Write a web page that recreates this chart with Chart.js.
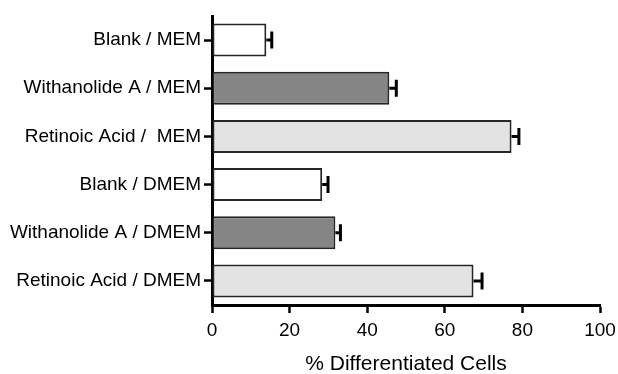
<!DOCTYPE html>
<html>
<head>
<meta charset="utf-8">
<script src="https://cdn.jsdelivr.net/npm/chart.js@4"></script>
<style>
  html, body { margin: 0; padding: 0; background: #fff; }
  #wrap { width: 618px; height: 374px; }
</style>
</head>
<body>
<div id="wrap"><canvas id="chart" width="618" height="374"></canvas></div>
<script>
// Data
const categories = [
    'Blank / MEM',
    'Withanolide A / MEM',
    'Retinoic Acid /  MEM',
    'Blank / DMEM',
    'Withanolide A / DMEM',
    'Retinoic Acid / DMEM'
];
const values = [14, 45.7, 77.2, 28.4, 31.8, 67.4];
const errors = [1.4, 1.8, 1.9, 1.5, 1.3, 2.2];
const xTicks = [0, 20, 40, 60, 80, 100];
const barColors = ['#ffffff', '#858585', '#e3e3e3', '#ffffff', '#858585', '#e3e3e3'];

const FONT = '"Liberation Sans", Arial, Helvetica, sans-serif';

// draws the + side error bar with cap
const errorBars = {
    id: 'errorBars',
    afterDatasetsDraw(chart) {
        const ctx = chart.ctx;
        const meta = chart.getDatasetMeta(0);
        const xs = chart.scales.x;
        ctx.save();
        ctx.strokeStyle = '#000';
        ctx.lineWidth = 3;
        meta.data.forEach((bar, i) => {
            const x0 = xs.getPixelForValue(values[i]);
            const x1 = xs.getPixelForValue(values[i] + errors[i]);
            ctx.beginPath();
            ctx.moveTo(x0, bar.y);
            ctx.lineTo(x1, bar.y);
            ctx.moveTo(x1, bar.y - 8.5);
            ctx.lineTo(x1, bar.y + 8.5);
            ctx.stroke();
        });
        ctx.restore();
    }
};

new Chart(document.getElementById('chart'), {
    type: 'bar',
    data: {
        labels: categories,
        datasets: [{
            data: values,
            backgroundColor: barColors,
            borderColor: '#262626',
            borderWidth: 2,
            borderSkipped: false,
            barPercentage: 0.685,
            categoryPercentage: 1
        }]
    },
    options: {
        indexAxis: 'y',
        responsive: false,
        animation: false,
        devicePixelRatio: 1,
        layout: { padding: { top: 16, right: 18, left: 0, bottom: 0 } },
        plugins: {
            legend: { display: false },
            tooltip: { enabled: false }
        },
        scales: {
            x: {
                min: 0,
                max: 100,
                afterFit: s => { s.height = 69; s.paddingLeft = 0; s.paddingRight = 0; },
                afterBuildTicks: s => { s.ticks = xTicks.map(v => ({ value: v })); },
                border: { display: true, color: '#000', width: 3 },
                grid: {
                    drawOnChartArea: false,
                    drawTicks: true,
                    tickLength: 8,
                    tickColor: '#000',
                    tickWidth: 2.5
                },
                ticks: {
                    color: '#000',
                    padding: 6,
                    font: { family: FONT, size: 19 }
                },
                title: {
                    display: true,
                    text: '% Differentiated Cells',
                    color: '#000',
                    padding: { top: 0, bottom: -3 },
                    font: { family: FONT, size: 21 }
                }
            },
            y: {
                afterFit: s => { s.width = 212; },
                border: { display: true, color: '#000', width: 3 },
                grid: {
                    offset: false,
                    drawOnChartArea: false,
                    drawTicks: true,
                    tickLength: 8,
                    tickColor: '#000',
                    tickWidth: 2.5
                },
                ticks: {
                    color: '#000',
                    padding: 3,
                    font: { family: FONT, size: 19 }
                }
            }
        }
    },
    plugins: [errorBars]
});
</script>
</body>
</html>
